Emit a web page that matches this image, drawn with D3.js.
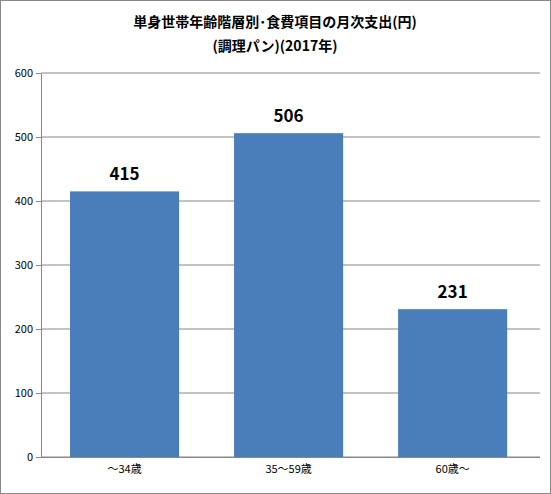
<!DOCTYPE html>
<html><head><meta charset="utf-8">
<script src="https://cdn.jsdelivr.net/npm/d3@7"></script>
<style>body{margin:0;background:#fff}</style></head>
<body><svg id="c" width="551" height="494"></svg>
<script>
const categories=["～34歳","35～59歳","60歳～"];
const values=[415,506,231];
const yTicks=[0,100,200,300,400,500,600];
const svg=d3.select("#c");
const font="'Noto Sans CJK JP','Noto Sans',sans-serif";
svg.append("rect").attr("x",0.5).attr("y",0.5).attr("width",550).attr("height",493).attr("fill","#fff").attr("stroke","#888");
const L=41,R=540,T=73,B=457;
const x=d3.scaleBand().domain(categories).range([37.2,540]).paddingInner(0.335).paddingOuter(0.2);
const y=d3.scaleLinear().domain([0,600]).range([B,T]);
const g=svg.append("g");
g.selectAll(".gl").data(yTicks).enter().append("line").attr("x1",L).attr("x2",R).attr("y1",d=>y(d)).attr("y2",d=>y(d)).attr("stroke","#888").attr("stroke-width",1);
g.append("g").attr("transform",`translate(${L},0)`).call(d3.axisLeft(y).tickValues(yTicks).tickSize(5).tickSizeOuter(0))
 .call(a=>{a.selectAll("text").attr("font-size",11).attr("font-family",font).attr("fill","#000");a.selectAll("line,path").attr("stroke","#888");});
g.append("g").attr("transform",`translate(0,${B})`).call(d3.axisBottom(x).tickSize(0).tickPadding(8))
 .call(a=>{a.selectAll("text").attr("font-size",11).attr("font-family",font).attr("fill","#000");a.select("path").attr("d",`M${L},0.5H${R}`).attr("stroke","#888");});
g.selectAll(".b").data(values).enter().append("rect").attr("x",(d,i)=>x(categories[i])).attr("width",x.bandwidth())
 .attr("y",d=>y(d)).attr("height",d=>B-y(d)).attr("fill","#4a7ebb");
g.selectAll(".v").data(values).enter().append("text").attr("x",(d,i)=>x(categories[i])+x.bandwidth()/2).attr("y",d=>y(d)-11)
 .attr("text-anchor","middle").attr("font-size",17).attr("font-weight","bold").attr("font-family",font).text(d=>d);
svg.append("text").attr("x",275).attr("y",27).attr("text-anchor","middle").attr("font-size",14).attr("font-weight","bold").attr("font-family",font).text("単身世帯年齢階層別･食費項目の月次支出(円)");
svg.append("text").attr("x",275).attr("y",51).attr("text-anchor","middle").attr("font-size",14).attr("font-weight","bold").attr("font-family",font).text("(調理パン)(2017年)");
</script></body></html>
